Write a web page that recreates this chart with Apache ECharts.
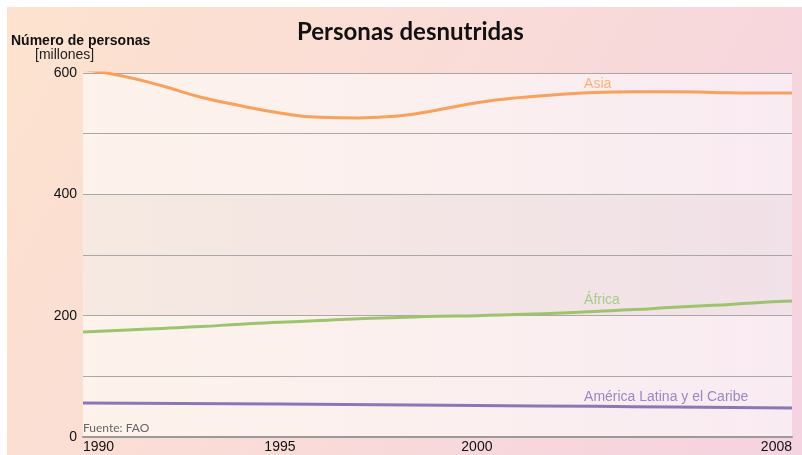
<!DOCTYPE html>
<html>
<head>
<meta charset="utf-8">
<script src="https://cdn.jsdelivr.net/npm/echarts@6/dist/echarts.min.js"></script>
<style>
  html, body { margin: 0; padding: 0; width: 100%; height: 100%; background: #f5d3e1; overflow: hidden; }
  body { border-top: 7px solid #ffffff; border-left: 7px solid #ffffff; box-sizing: border-box; }
  #chart { width: 795px; height: 448px; }
</style>
</head>
<body>
<div id="chart"></div>
<script>
// values (millions of people)
const years = [1990, 1991, 1992, 1993, 1994, 1995, 1996, 1997, 1998, 1999,
  2000, 2001, 2002, 2003, 2004, 2005, 2006, 2007, 2008];
const asia = [606, 595, 579, 560, 546, 534, 527, 526, 529, 539,
  551, 559, 564, 568, 569, 569, 568, 567, 567];
const africa = [173, 176, 179, 182, 186, 189, 192, 195, 197, 199,
  200, 202, 204, 207, 210, 214, 217, 221, 224];
const latinYears = [1990, 1995, 2000, 2003, 2005, 2008];
const latin = [56, 54.5, 52, 50.5, 49.5, 48];
const xTicks = [1990, 1995, 2000, 2008];
const yTicks = [0, 200, 400, 600];
const labelYear = 2003;

const chart = echarts.init(document.getElementById('chart'));

function lineSeries(name, xs, ys, color, labelColor, dy) {
  const i = xs.indexOf(labelYear);
  return {
    name: name,
    type: 'line',
    smooth: true,
    symbol: 'none',
    data: xs.map((x, k) => [x, ys[k]]),
    lineStyle: { color: color, width: 3 },
    itemStyle: { color: color },
    emphasis: { disabled: true },
    markPoint: {
      symbol: 'circle',
      symbolSize: 0,
      silent: true,
      data: [{ coord: [labelYear, ys[i]] }],
      label: {
        show: true,
        formatter: name,
        position: 'top',
        align: 'left',
        distance: 0,
        offset: [-11, dy],
        color: labelColor,
        fontSize: 14,
        fontFamily: 'Liberation Sans, Arial, sans-serif'
      }
    },
    z: 3
  };
}

const option = {
  animation: false,
  backgroundColor: {
    type: 'linear', x: 0, y: 0, x2: 1, y2: 1,
    colorStops: [
      { offset: 0, color: '#fde3cf' },
      { offset: 1, color: '#f5d3e1' }
    ]
  },
  title: [
    {
      text: 'Personas desnutridas',
      left: 285,
      top: 8,
      textStyle: { fontFamily: 'Lato', fontWeight: 'bold', fontSize: 24, color: '#111' }
    },
    {
      text: 'Número de personas',
      left: 4,
      top: 27,
      padding: 0,
      textStyle: { fontFamily: 'Liberation Sans, Arial', fontWeight: 'bold', fontSize: 14, color: '#111' }
    },
    {
      text: '[millones]',
      left: 28,
      top: 41,
      padding: 0,
      textStyle: { fontFamily: 'Liberation Sans, Arial', fontWeight: 'normal', fontSize: 14, color: '#222' }
    }
  ],
  graphic: [
    {
      type: 'text',
      left: 76,
      top: 415,
      style: { text: 'Fuente: FAO', fontFamily: 'Lato', fontSize: 12, fill: '#666' }
    }
  ],
  grid: {
    left: 76,
    right: 10,
    top: 66,
    bottom: 18,
    show: true,
    borderWidth: 0,
    backgroundColor: {
      type: 'linear', x: 0, y: 0, x2: 1, y2: 0,
      colorStops: [
        { offset: 0, color: '#fdf3eb' },
        { offset: 1, color: '#f9ebf2' }
      ]
    }
  },
  xAxis: {
    type: 'value',
    min: 1990,
    max: 2008,
    interval: 1,
    axisLine: { show: true, lineStyle: { color: '#9a9a9a', width: 2 } },
    axisTick: { show: false },
    splitLine: { show: false },
    axisLabel: {
      customValues: xTicks,
      formatter: v => String(v),
      alignMinLabel: 'left',
      alignMaxLabel: 'right',
      margin: 3,
      fontSize: 14,
      color: '#111',
      fontFamily: 'Liberation Sans, Arial, sans-serif'
    }
  },
  yAxis: {
    type: 'value',
    min: 0,
    max: 600,
    interval: 100,
    axisLine: { show: false },
    axisTick: { show: false },
    axisLabel: {
      customValues: yTicks,
      margin: 6,
      fontSize: 14,
      color: '#111',
      fontFamily: 'Liberation Sans, Arial, sans-serif'
    },
    splitLine: { show: true, lineStyle: { color: '#a8a8a8', width: 1 } },
    splitArea: {
      show: true,
      areaStyle: {
        color: ['rgba(0,0,0,0)', 'rgba(0,0,0,0)', 'rgba(150,120,120,0.08)',
          'rgba(150,120,120,0.08)', 'rgba(0,0,0,0)', 'rgba(0,0,0,0)']
      }
    }
  },
  series: [
    lineSeries('Asia', years, asia, '#f9a15c', '#f9b07c', -1),
    lineSeries('África', years, africa, '#9cc46e', '#a6cd86', -4),
    lineSeries('América Latina y el Caribe', latinYears, latin, '#8b77b8', '#9a88c4', -2)
  ]
};

chart.setOption(option);
window.addEventListener('resize', () => chart.resize());
</script>
</body>
</html>
